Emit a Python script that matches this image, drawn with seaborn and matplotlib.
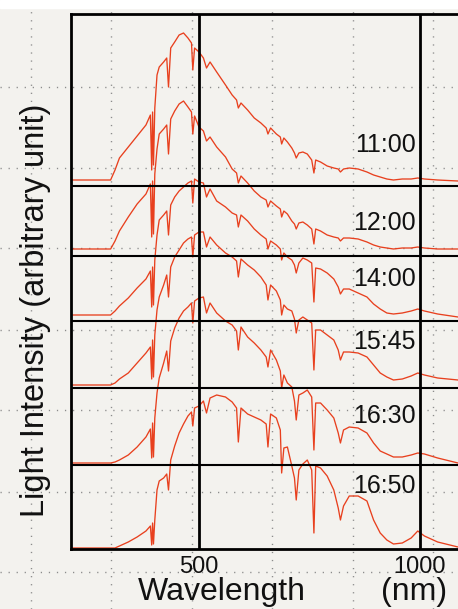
import numpy as np
import pandas as pd
import matplotlib
matplotlib.use("Agg")
import matplotlib.pyplot as plt
from matplotlib.patches import Rectangle
import seaborn as sns

# ---------------- data ----------------
wavelength_nm = [210, 300, 310, 320, 340, 360, 380, 390, 393, 395,
                 397, 400, 405, 410, 420, 427, 431, 436, 445, 455,
                 465, 475, 483, 486, 490, 500, 510, 517, 525, 540,
                 560, 575, 585, 589, 595, 610, 625, 640, 652, 656,
                 662, 675, 684, 687, 692, 700, 710, 716, 720, 726,
                 735, 745, 755, 760, 764, 775, 790, 805, 815, 820,
                 827, 840, 860, 880, 895, 910, 925, 940, 960, 980,
                 995, 1010, 1040, 1086]

times = ["11:00", "12:00", "14:00", "15:45", "16:30", "16:50"]

# stacking offset of each spectrum (arbitrary unit)
offsets = [369, 300, 234, 164, 86, 1]

i_1100 = [0, 0, 10, 22, 33, 44, 55, 65, 10, 68,
          15, 72, 105, 113, 118, 122, 93, 132, 138, 145,
          147, 142, 137, 110, 132, 128, 122, 112, 118, 108,
          95, 85, 80, 72, 77, 70, 62, 57, 52, 46,
          52, 46, 43, 36, 42, 38, 32, 27, 22, 27,
          28, 26, 20, 7, 20, 18, 14, 12, 11, 8,
          11, 12, 11, 8, 5, 3, 1, 0, 1, 1,
          2, 1, 0, -1]

i_1200 = [0, 0, 8, 18, 32, 45, 55, 65, 12, 68,
          15, 75, 100, 115, 120, 124, 95, 130, 138, 145,
          148, 142, 137, 115, 133, 122, 118, 108, 112, 102,
          92, 80, 76, 66, 73, 66, 58, 52, 49, 42,
          48, 43, 40, 32, 38, 35, 28, 25, 20, 26,
          27, 24, 20, 5, 20, 18, 14, 12, 11, 8,
          11, 11, 10, 7, 4, 2, 1, 0, 1, 1,
          2, 1, 0, 0]

i_1400 = [0, 0, 4, 9, 17, 27, 36, 44, 8, 48,
          10, 55, 80, 95, 100, 104, 80, 110, 118, 124,
          128, 132, 134, 112, 136, 133, 132, 118, 126, 114,
          108, 102, 100, 88, 100, 94, 86, 80, 76, 66,
          74, 70, 66, 55, 62, 58, 55, 50, 42, 52,
          57, 55, 52, 13, 47, 46, 42, 36, 28, 21,
          26, 26, 22, 18, 11, 6, 2, 1, 2, 4,
          6, 4, 1, -2]

i_1545 = [0, 0, 2, 6, 12, 22, 32, 38, 6, 45,
          8, 50, 75, 88, 100, 110, 88, 118, 128, 135,
          142, 146, 148, 128, 150, 153, 153, 138, 148, 140,
          132, 128, 124, 108, 126, 120, 115, 108, 100, 85,
          100, 94, 85, 70, 80, 76, 74, 66, 52, 65,
          68, 65, 62, 15, 55, 55, 50, 45, 35, 25,
          33, 33, 32, 28, 20, 12, 8, 5, 6, 9,
          12, 10, 7, 5]

i_1630 = [0, 0, 1, 3, 8, 16, 26, 34, 5, 40,
          6, 45, 70, 85, 100, 112, 92, 122, 135, 145,
          152, 156, 160, 140, 162, 165, 166, 150, 160, 150,
          142, 138, 132, 113, 136, 126, 120, 113, 106, 96,
          113, 103, 92, 75, 88, 80, 76, 62, 43, 68,
          70, 73, 66, 13, 60, 60, 53, 45, 30, 20,
          33, 36, 35, 30, 20, 12, 9, 6, 6, 8,
          10, 9, 5, 0]

i_1650 = [0, 0, 0, 2, 6, 11, 17, 22, 3, 25,
          4, 28, 58, 67, 70, 74, 58, 88, 102, 115,
          124, 132, 136, 122, 140, 142, 147, 135, 150, 153,
          151, 146, 140, 106, 140, 134, 131, 128, 124, 101,
          134, 130, 118, 75, 100, 101, 82, 70, 48, 78,
          84, 88, 78, 15, 82, 80, 72, 58, 40, 28,
          42, 52, 52, 47, 28, 15, 8, 4, 5, 10,
          17, 12, 6, 1]

x_ticks = [500, 1000]
x_tick_labels = ["500", "1000"]

# ---------------- build long table ----------------
series = [i_1100, i_1200, i_1400, i_1545, i_1630, i_1650]
frames = []
for t, off, vals in zip(times, offsets, series):
    frames.append(pd.DataFrame({
        "wavelength": wavelength_nm,
        "intensity": np.asarray(vals, dtype=float) + off,
        "time": t,
    }))
df = pd.concat(frames, ignore_index=True)

# ---------------- figure ----------------
sns.set_theme(style="white")
plt.rcParams["font.family"] = ["Liberation Sans", "DejaVu Sans"]

W, H = 458, 609
fig = plt.figure(figsize=(W / 100, H / 100), dpi=100)
fig.patch.set_facecolor("#f3f2ee")

# background "graph paper" dotted grid (whole figure)
bg = fig.add_axes([0, 0, 1, 1], zorder=0)
bg.set_xlim(0, W)
bg.set_ylim(H, 0)
bg.patch.set_alpha(0)
bg.set_xticks([31, 111, 192, 272, 353, 433])
bg.set_yticks([87, 168, 248, 330, 410, 492, 572])
bg.grid(True, color="#8c8c8c", linewidth=1.0, linestyle=(0, (0.9, 4.9)))
bg.tick_params(length=0, labelbottom=False, labelleft=False)
for s in bg.spines.values():
    s.set_visible(False)
bg.add_patch(Rectangle((0, 0), W, 8, color="white", zorder=3))

# main axes
left_px, top_px, bottom_px = 71, 14, 549
ax = fig.add_axes([left_px / W, (H - bottom_px) / H, 1 - left_px / W,
                   (bottom_px - top_px) / H], zorder=1)
ax.patch.set_alpha(0)

sns.lineplot(data=df, x="wavelength", y="intensity", hue="time",
             units="time", estimator=None, sort=False,
             palette=["#e8401e"] * len(times), linewidth=0.95,
             legend=False, ax=ax)

ax.set_xlim(210.4, 1086)
ax.set_ylim(0, 535)

# panel separators
for y in [363, 293, 228, 161, 84]:
    ax.axhline(y, color="black", linewidth=1.5, zorder=3)
for xv in x_ticks:
    ax.axvline(xv, color="black", linewidth=2.0, zorder=3)

# time labels
label_y = [404, 326, 270, 207, 133, 63]
for t, yy in zip(times, label_y):
    ax.text(991, yy, t, ha="right", va="center", fontsize=18, color="#111111",
            zorder=4)

for side in ["left", "top", "bottom"]:
    ax.spines[side].set_visible(True)
    ax.spines[side].set_color("black")
    ax.spines[side].set_linewidth(2.0)
ax.spines["right"].set_visible(False)

ax.set_xticks(x_ticks)
ax.set_xticklabels(x_tick_labels)
ax.set_yticks([])
ax.tick_params(axis="x", length=0, pad=5, labelsize=17, labelcolor="#111111")
ax.set_xlabel("")
ax.set_ylabel("")

fig.text(222 / W, 1 - 592 / H, "Wavelength", ha="center", va="center",
         fontsize=23, color="#111111")
fig.text(414 / W, 1 - 592 / H, "(nm)", ha="center", va="center",
         fontsize=23, color="#111111")
fig.text(36 / W, 1 - 310 / H, "Light Intensity (arbitrary unit)",
         rotation=90, ha="center", va="center", fontsize=23.5, color="#111111")

fig.savefig("out.png", dpi=100, facecolor=fig.get_facecolor())
